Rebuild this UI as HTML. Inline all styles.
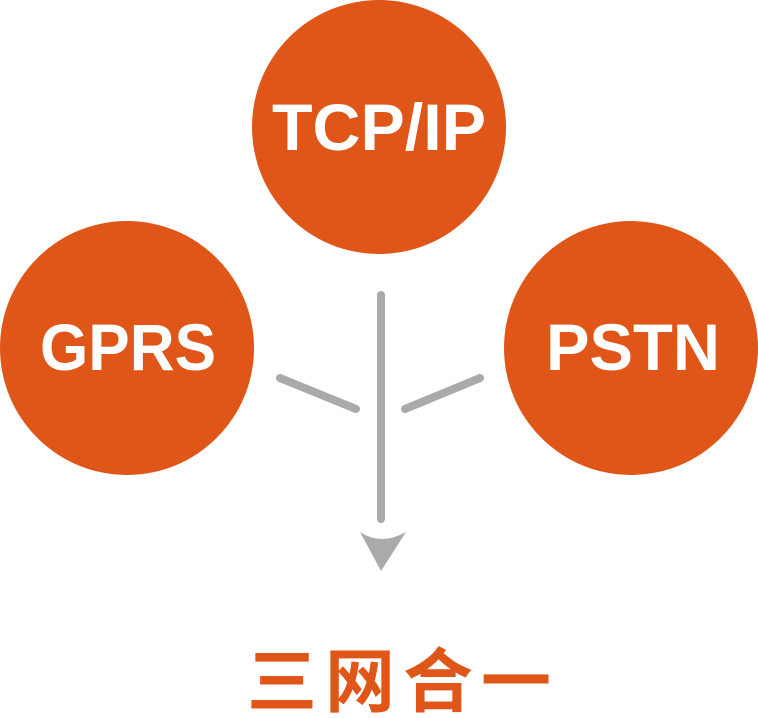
<!DOCTYPE html>
<html><head><meta charset="utf-8"><style>
html,body{margin:0;padding:0;background:#fff;width:758px;height:718px;overflow:hidden}
</style></head><body>
<svg width="758" height="718" viewBox="0 0 758 718" xmlns="http://www.w3.org/2000/svg">
<circle cx="379" cy="127" r="127" fill="#e05618"/>
<circle cx="127" cy="348" r="127" fill="#e05618"/>
<circle cx="631" cy="348" r="127" fill="#e05618"/>
<g font-family="Liberation Sans, DejaVu Sans, sans-serif" font-weight="bold" fill="#fff" text-anchor="middle" font-size="66">
<text x="379" y="150" textLength="214" lengthAdjust="spacingAndGlyphs">TCP/IP</text>
<text x="128" y="370" textLength="176" lengthAdjust="spacingAndGlyphs">GPRS</text>
<text x="633" y="370" textLength="174" lengthAdjust="spacingAndGlyphs">PSTN</text>
</g>
<g stroke="#aaaaaa" stroke-width="8" stroke-linecap="round" fill="none">
<line x1="381" y1="295" x2="381" y2="519"/>
<line x1="280" y1="378" x2="356" y2="409"/>
<line x1="480" y1="378" x2="405" y2="409"/>
</g>
<path d="M360 532 Q381 546 406 532 L381 571 Z" fill="#aaaaaa"/>
<text x="403" y="706" text-anchor="middle" font-family="Liberation Sans, Noto Sans CJK SC, sans-serif" font-weight="bold" font-size="70" fill="#e05618" letter-spacing="8">三网合一</text>
</svg>
</body></html>
